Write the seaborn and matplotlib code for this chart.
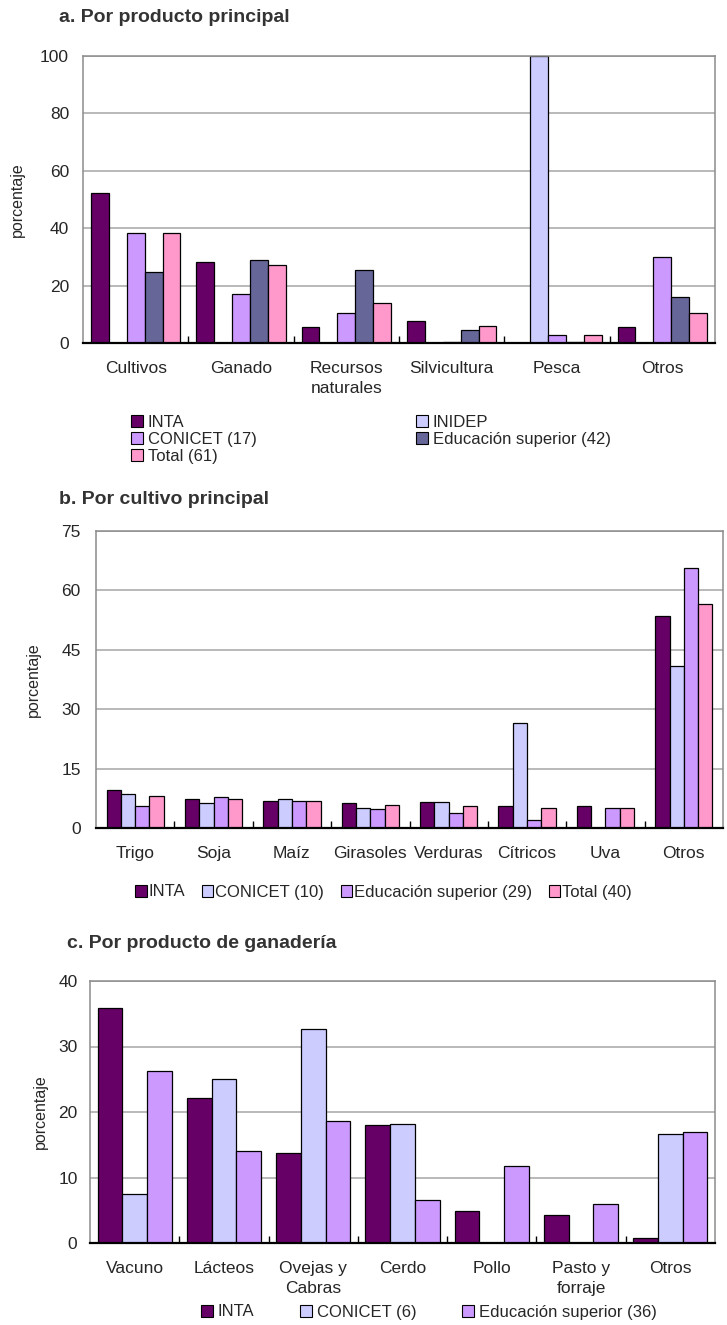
import pandas as pd
import seaborn as sns
import matplotlib.pyplot as plt
from matplotlib.patches import Patch
from matplotlib.ticker import FixedLocator

# %%
# a. por producto principal
cat_a = ['Cultivos', 'Ganado', 'Recursos\nnaturales', 'Silvicultura', 'Pesca', 'Otros']
ser_a = ['INTA', 'INIDEP', 'CONICET (17)', 'Educación superior (42)', 'Total (61)']
inta_a = [52.3, 28.3, 5.5, 7.6, 0, 5.5]
inidep_a = [0, 0, 0, 0, 100, 0]
conicet_a = [38.5, 17.2, 10.6, 0.4, 2.9, 29.9]
edu_a = [24.8, 28.8, 25.3, 4.6, 0.5, 16.2]
total_a = [38.5, 27.3, 14.1, 6.0, 2.9, 10.6]
col_a = ['#660066', '#CCCCFF', '#CC99FF', '#666699', '#FF99CC']

# b. por cultivo principal
cat_b = ['Trigo', 'Soja', 'Maíz', 'Girasoles', 'Verduras', 'Cítricos', 'Uva', 'Otros']
ser_b = ['INTA', 'CONICET (10)', 'Educación superior (29)', 'Total (40)']
inta_b = [9.5, 7.2, 6.8, 6.2, 6.5, 5.5, 5.5, 53.5]
conicet_b = [8.5, 6.2, 7.2, 5.1, 6.5, 26.5, 0, 40.8]
edu_b = [5.5, 7.8, 6.8, 4.8, 3.8, 2.0, 5.1, 65.6]
total_b = [8.2, 7.2, 6.8, 5.8, 5.5, 5.1, 5.1, 56.5]
col_b = ['#660066', '#CCCCFF', '#CC99FF', '#FF99CC']

# c. por producto de ganaderia
cat_c = ['Vacuno', 'Lácteos', 'Ovejas y\nCabras', 'Cerdo', 'Pollo', 'Pasto y\nforraje', 'Otros']
ser_c = ['INTA', 'CONICET (6)', 'Educación superior (36)']
inta_c = [35.9, 22.2, 13.7, 18.0, 4.9, 4.3, 0.8]
conicet_c = [7.5, 25.0, 32.7, 18.2, 0, 0, 16.6]
edu_c = [26.2, 14.0, 18.6, 6.5, 11.8, 5.9, 17.0]
col_c = ['#660066', '#CCCCFF', '#CC99FF']

# %%
sns.set_theme(style='white')
plt.rcParams['font.family'] = ['Liberation Sans', 'DejaVu Sans']

W, H = 727, 1325
fig = plt.figure(figsize=(W / 100, H / 100), dpi=100)


def long_df(cats, series, values):
    rows = []
    for s, vals in zip(series, values):
        for c, v in zip(cats, vals):
            rows.append({'cat': c, 'serie': s, 'val': v})
    return pd.DataFrame(rows)


def panel(box, cats, series, values, colors, ymax, step, width, ypad, ylab_x, title, title_xy):
    l, t, r, b = box
    ax = fig.add_axes([l / W, 1 - b / H, (r - l) / W, (b - t) / H])
    df = long_df(cats, series, values)
    sns.barplot(data=df, x='cat', y='val', hue='serie', hue_order=series,
                palette=colors, saturation=1, width=width, edgecolor='black', linewidth=0.9,
                errorbar=None, legend=False, ax=ax)
    ax.set_ylim(0, ymax)
    ax.set_yticks(range(0, ymax + 1, step))
    ax.set_xlim(-0.5, len(cats) - 0.5)
    ax.yaxis.grid(True, color='#A6A6A6', lw=1.1)
    ax.set_axisbelow(True)
    for side in ['left', 'top', 'right']:
        ax.spines[side].set_color('#8C8C8C')
        ax.spines[side].set_linewidth(1.1)
    ax.spines['bottom'].set_color('black')
    ax.spines['bottom'].set_linewidth(1.6)
    ax.xaxis.set_minor_locator(FixedLocator([i + 0.5 for i in range(len(cats) - 1)]))
    ax.tick_params(axis='x', which='minor', direction='in', length=5, width=1, color='black', bottom=True)
    ax.tick_params(axis='x', which='major', length=0, pad=13, labelsize=12.5)
    ax.tick_params(axis='y', length=0, pad=ypad, labelsize=12.5)
    for lab in ax.get_xticklabels():
        lab.set_linespacing(1.45)
    ax.set_xlabel('')
    ax.set_ylabel('porcentaje', fontsize=11.5)
    ax.yaxis.set_label_coords((ylab_x - l) / (r - l), 0.5)
    fig.text(title_xy[0] / W, 1 - title_xy[1] / H, title, fontsize=14, fontweight='bold',
             color='#333333', va='center', ha='left')
    return ax


def handles(series, colors):
    return [Patch(facecolor=c, edgecolor='black', linewidth=0.8, label=s) for s, c in zip(series, colors)]


leg_kw = dict(frameon=False, handlelength=0.7, handleheight=0.7, fontsize=12,
              borderpad=0, borderaxespad=0, labelspacing=0.12)

# %% panel a
panel((83, 56, 715, 343), cat_a, ser_a, [inta_a, inidep_a, conicet_a, edu_a, total_a],
      col_a, 100, 20, 0.85, 10, 25, 'a. Por producto principal', (59, 18))
h = handles(ser_a, col_a)
fig.legend(handles=[h[0], h[2], h[4]], loc='upper left', bbox_to_anchor=(131 / W, 1 - 415 / H),
           handletextpad=0.3, **leg_kw)
fig.legend(handles=[h[1], h[3]], loc='upper left', bbox_to_anchor=(416 / W, 1 - 415 / H),
           handletextpad=0.3, **leg_kw)

# %% panel b
panel((96, 531, 723, 828), cat_b, ser_b, [inta_b, conicet_b, edu_b, total_b],
      col_b, 75, 15, 0.73, 11, 41, 'b. Por cultivo principal', (59, 500))
fig.legend(handles=handles(ser_b, col_b), loc='center left', bbox_to_anchor=(135 / W, 1 - 892 / H),
           ncol=4, handletextpad=0.1, columnspacing=1.0, **leg_kw)

# %% panel c
panel((90, 981, 715, 1243), cat_c, ser_c, [inta_c, conicet_c, edu_c],
      col_c, 40, 10, 0.83, 9, 48, 'c. Por producto de ganadería', (67, 943))
fig.legend(handles=handles(ser_c, col_c), loc='center left', bbox_to_anchor=(201 / W, 1 - 1312 / H),
           ncol=3, handletextpad=0.3, columnspacing=2.75, **leg_kw)

plt.savefig('out.png', dpi=100)
